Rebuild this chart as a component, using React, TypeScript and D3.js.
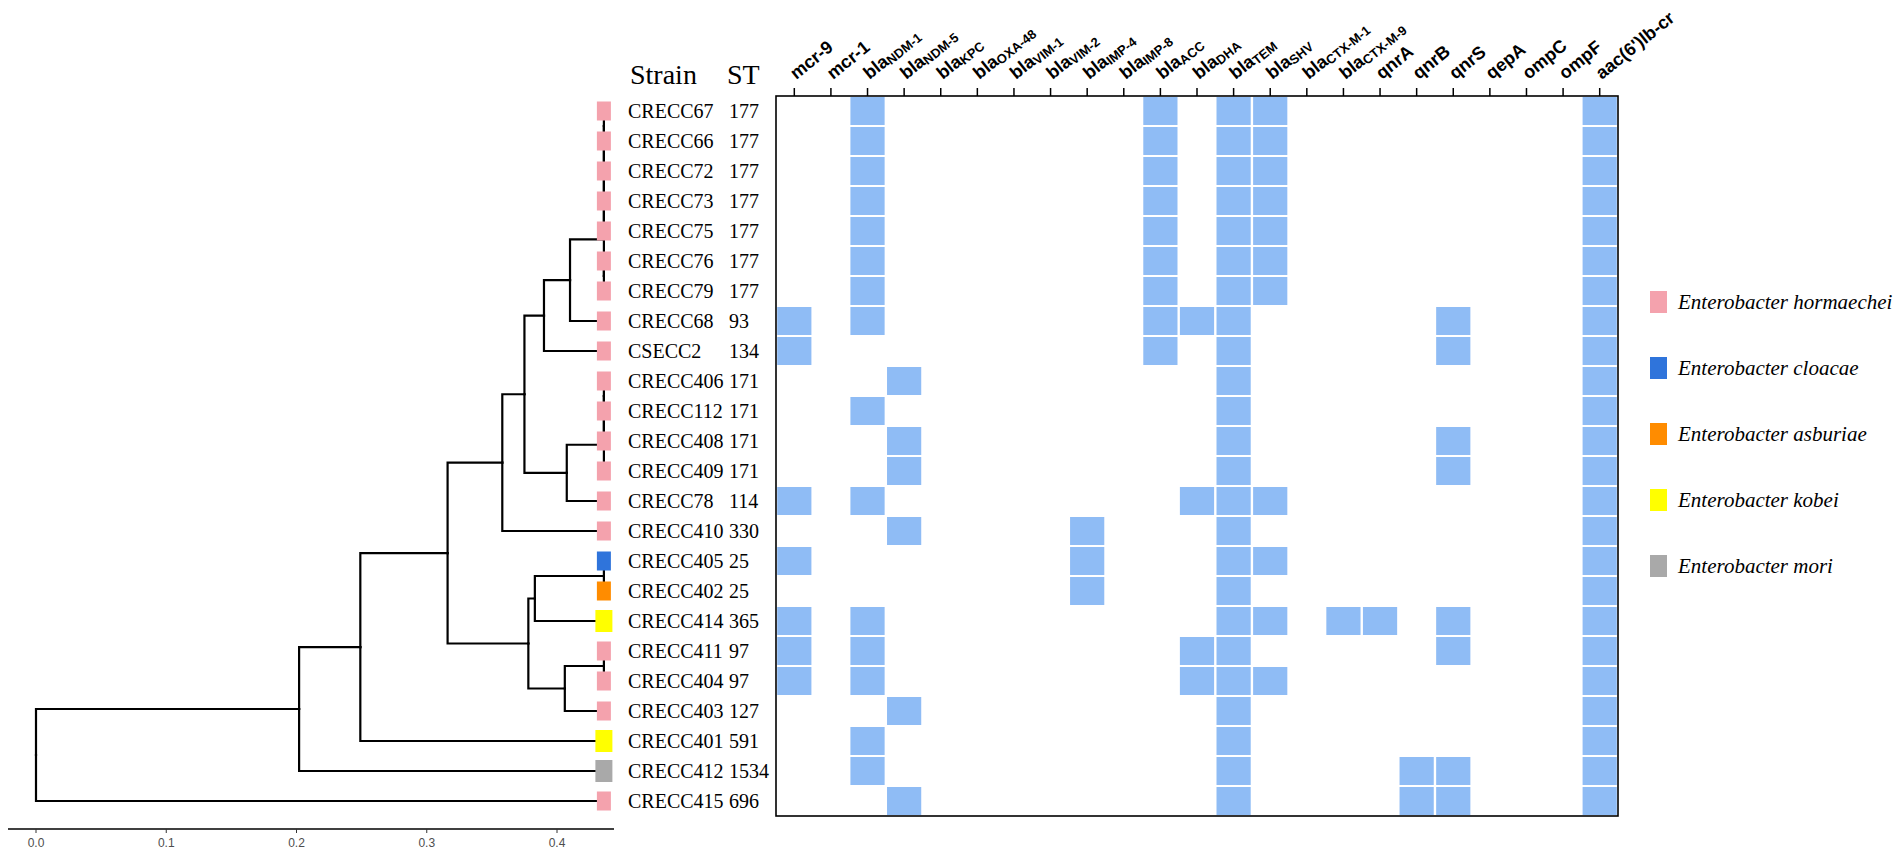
import { useMemo } from "react";
import * as d3 from "d3";

const W = 1902;
const H = 853;

// tips, top to bottom
const strains = [
  "CRECC67", "CRECC66", "CRECC72", "CRECC73", "CRECC75", "CRECC76", "CRECC79",
  "CRECC68", "CSECC2", "CRECC406", "CRECC112", "CRECC408", "CRECC409", "CRECC78",
  "CRECC410", "CRECC405", "CRECC402", "CRECC414", "CRECC411", "CRECC404",
  "CRECC403", "CRECC401", "CRECC412", "CRECC415",
];
const sequenceTypes = [
  "177", "177", "177", "177", "177", "177", "177", "93", "134", "171", "171", "171",
  "171", "114", "330", "25", "25", "365", "97", "97", "127", "591", "1534", "696",
];
const strainSpecies = [
  "hormaechei", "hormaechei", "hormaechei", "hormaechei", "hormaechei", "hormaechei",
  "hormaechei", "hormaechei", "hormaechei", "hormaechei", "hormaechei", "hormaechei",
  "hormaechei", "hormaechei", "hormaechei", "cloacae", "asburiae", "kobei",
  "hormaechei", "hormaechei", "hormaechei", "kobei", "mori", "hormaechei",
];

const species = ["hormaechei", "cloacae", "asburiae", "kobei", "mori"];
const speciesColor: Record<string, string> = {
  hormaechei: "#f4a2ad",
  cloacae: "#2f74db",
  asburiae: "#ff8c00",
  kobei: "#ffff00",
  mori: "#a9a9a9",
};

const genes = [
  "mcr-9", "mcr-1", "blaNDM-1", "blaNDM-5", "blaKPC", "blaOXA-48", "blaVIM-1",
  "blaVIM-2", "blaIMP-4", "blaIMP-8", "blaACC", "blaDHA", "blaTEM", "blaSHV",
  "blaCTX-M-1", "blaCTX-M-9", "qnrA", "qnrB", "qnrS", "qepA", "ompC", "ompF",
  "aac(6')lb-cr",
];

const st177 = ["blaNDM-1", "blaACC", "blaTEM", "blaSHV", "aac(6')lb-cr"];
const strainGenes = [
  st177, st177, st177, st177, st177, st177, st177,
  ["mcr-9", "blaNDM-1", "blaACC", "blaDHA", "blaTEM", "qnrS", "aac(6')lb-cr"],
  ["mcr-9", "blaACC", "blaTEM", "qnrS", "aac(6')lb-cr"],
  ["blaNDM-5", "blaTEM", "aac(6')lb-cr"],
  ["blaNDM-1", "blaTEM", "aac(6')lb-cr"],
  ["blaNDM-5", "blaTEM", "qnrS", "aac(6')lb-cr"],
  ["blaNDM-5", "blaTEM", "qnrS", "aac(6')lb-cr"],
  ["mcr-9", "blaNDM-1", "blaDHA", "blaTEM", "blaSHV", "aac(6')lb-cr"],
  ["blaNDM-5", "blaIMP-4", "blaTEM", "aac(6')lb-cr"],
  ["mcr-9", "blaIMP-4", "blaTEM", "blaSHV", "aac(6')lb-cr"],
  ["blaIMP-4", "blaTEM", "aac(6')lb-cr"],
  ["mcr-9", "blaNDM-1", "blaTEM", "blaSHV", "blaCTX-M-9", "qnrA", "qnrS", "aac(6')lb-cr"],
  ["mcr-9", "blaNDM-1", "blaDHA", "blaTEM", "qnrS", "aac(6')lb-cr"],
  ["mcr-9", "blaNDM-1", "blaDHA", "blaTEM", "blaSHV", "aac(6')lb-cr"],
  ["blaNDM-5", "blaTEM", "aac(6')lb-cr"],
  ["blaNDM-1", "blaTEM", "aac(6')lb-cr"],
  ["blaNDM-1", "blaTEM", "qnrB", "qnrS", "aac(6')lb-cr"],
  ["blaNDM-5", "blaTEM", "qnrB", "qnrS", "aac(6')lb-cr"],
];

// tree: internal nodes [id, parent, depth from root]
const TIP = 0.436;
const treeNodes: [string, string | null, number][] = [
  ["root", null, 0],
  ["A", "root", 0.202],
  ["B", "A", 0.249],
  ["C", "B", 0.316],
  ["P", "C", 0.358],
  ["Q", "P", 0.375],
  ["N2", "Q", 0.39],
  ["N1", "N2", 0.41],
  ["c7e", "N1", TIP],
  ["c7d", "c7e", TIP],
  ["c7c", "c7d", TIP],
  ["c7b", "c7c", TIP],
  ["c7a", "c7b", TIP],
  ["c7f", "c7e", TIP],
  ["R", "Q", 0.4075],
  ["c4c", "R", TIP],
  ["c4b", "c4c", TIP],
  ["c4a", "c4b", TIP],
  ["D", "C", 0.378],
  ["G", "D", 0.383],
  ["g2", "G", TIP],
  ["E", "D", 0.406],
  ["e2", "E", TIP],
];
const tipParents = [
  "c7a", "c7a", "c7b", "c7c", "c7d", "c7f", "c7f", "N1", "N2", "c4a", "c4a", "c4b",
  "c4c", "R", "P", "g2", "g2", "G", "e2", "e2", "E", "B", "A", "root",
];
const axisTicks = [0, 0.1, 0.2, 0.3, 0.4];

const SERIF = "'Liberation Serif', 'Times New Roman', serif";
const SANS = "'Liberation Sans', Arial, sans-serif";

type N = { id: string; parent: string | null; d: number };

export default function App() {
  const yRow = d3.scaleBand<string>().domain(strains).range([96, 816]);
  const xCol = d3.scaleBand<string>().domain(genes).range([776, 1618]);
  const xTree = d3.scaleLinear().domain([0, 0.4]).range([36, 557]);
  const yLegend = d3.scalePoint<string>().domain(species).range([302, 566]);
  const rowMid = (s: string) => (yRow(s) ?? 0) + yRow.bandwidth() / 2;

  const { links } = useMemo(() => {
    const rows: N[] = [
      ...treeNodes.map(([id, parent, d]) => ({ id, parent, d })),
      ...strains.map((s, i) => ({ id: s, parent: tipParents[i], d: TIP })),
    ];
    const root = d3.stratify<N>().id((n) => n.id).parentId((n) => n.parent)(rows);
    const ypos = new Map<string, number>();
    root.eachAfter((n) => {
      if (!n.children) ypos.set(n.id!, rowMid(n.id!));
      else ypos.set(n.id!, d3.mean(n.children, (c) => ypos.get(c.id!)!)!);
    });
    const links = root.links().map(({ source, target }) => ({
      key: target.id!,
      path: `M${xTree(source.data.d)},${ypos.get(source.id!)}V${ypos.get(target.id!)}H${xTree(target.data.d)}`,
    }));
    return { links };
  }, []);

  const tipX = xTree(TIP);
  const cw = xCol.bandwidth();
  const ch = yRow.bandwidth();

  return (
    <svg width={W} height={H} style={{ position: "absolute", left: 0, top: 0, display: "block", background: "#fff" }}>
      {/* tree */}
      <g fill="none" stroke="#000" strokeWidth={2.2} strokeLinecap="square">
        {links.map((l) => (
          <path key={l.key} d={l.path} />
        ))}
      </g>

      {/* tree axis */}
      <g>
        <line x1={8} x2={614} y1={829} y2={829} stroke="#000" strokeWidth={1.5} />
        {axisTicks.map((t) => (
          <g key={t} transform={`translate(${xTree(t)},829)`}>
            <line y1={0} y2={4} stroke="#333" strokeWidth={1} />
            <text y={18} textAnchor="middle" fontFamily={SANS} fontSize={12} fill="#4d4d4d">
              {d3.format(".1f")(t)}
            </text>
          </g>
        ))}
      </g>

      {/* tip squares */}
      {strains.map((s, i) => {
        const sp = strainSpecies[i];
        const big = sp === "kobei" || sp === "mori";
        const w = big ? 17 : 14;
        const h = big ? 22 : 19;
        return (
          <rect key={s} x={tipX - w / 2} y={rowMid(s) - h / 2} width={w} height={h} fill={speciesColor[sp]} />
        );
      })}

      {/* strain / ST labels */}
      <text x={630} y={84} fontFamily={SERIF} fontSize={28}>Strain</text>
      <text x={727} y={84} fontFamily={SERIF} fontSize={28}>ST</text>
      {strains.map((s, i) => (
        <g key={s} fontFamily={SERIF} fontSize={20}>
          <text x={628} y={rowMid(s) + 7}>{s}</text>
          <text x={729} y={rowMid(s) + 7}>{sequenceTypes[i]}</text>
        </g>
      ))}

      {/* heatmap */}
      {strains.map((s, i) =>
        strainGenes[i].map((g) => (
          <rect
            key={s + g}
            x={(xCol(g) ?? 0) + 1.2}
            y={(yRow(s) ?? 0) + 1}
            width={cw - 2.4}
            height={ch - 2}
            fill="#8fbcf5"
          />
        ))
      )}
      <rect x={776} y={96} width={1618 - 776} height={816 - 96} fill="none" stroke="#000" strokeWidth={1.6} />

      {/* gene axis on top */}
      {genes.map((g) => {
        const x = (xCol(g) ?? 0) + cw / 2;
        const isBla = g.startsWith("bla");
        return (
          <g key={g}>
            <line x1={x} x2={x} y1={88} y2={96} stroke="#000" strokeWidth={1.5} />
            <text
              transform={`translate(${x + 2},80) rotate(-39)`}
              fontFamily={SANS}
              fontWeight="bold"
              fontSize={18}
              fill="#000"
            >
              {isBla ? (
                <>
                  bla<tspan fontSize={13} dy={2}>{g.slice(3)}</tspan>
                </>
              ) : (
                g
              )}
            </text>
          </g>
        );
      })}

      {/* legend */}
      {species.map((sp) => {
        const y = yLegend(sp) ?? 0;
        return (
          <g key={sp}>
            <rect x={1650} y={y - 11} width={17} height={22} fill={speciesColor[sp]} />
            <text x={1678} y={y + 7} fontFamily={SERIF} fontStyle="italic" fontSize={21}>
              {`Enterobacter ${sp}`}
            </text>
          </g>
        );
      })}
    </svg>
  );
}
